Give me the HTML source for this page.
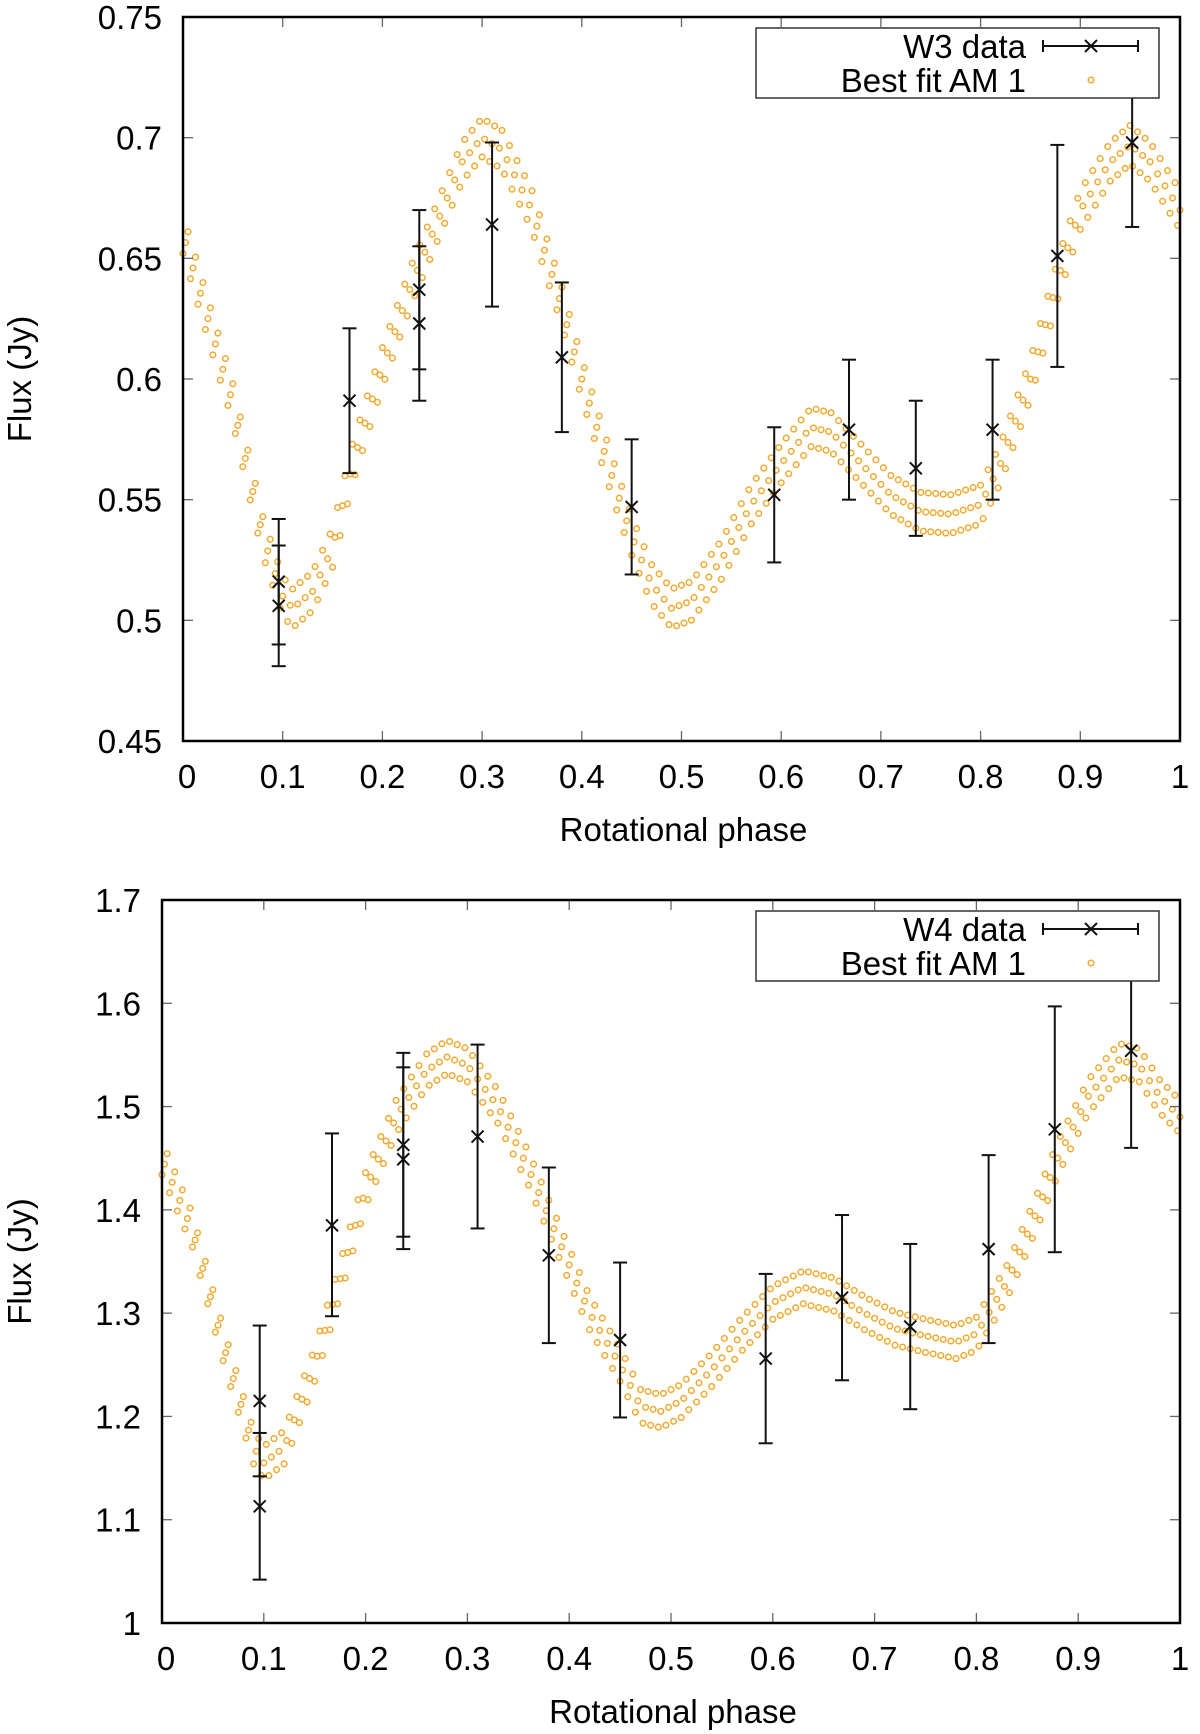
<!DOCTYPE html>
<html><head><meta charset="utf-8"><style>
html,body{margin:0;padding:0;background:#fff;}
svg{display:block;font-family:"Liberation Sans",Arial,sans-serif;}
</style></head><body>
<svg id="chart" width="1200" height="1734" viewBox="0 0 1200 1734" xmlns="http://www.w3.org/2000/svg"></svg>
<script>
// ---- data ----
const phases = [0.096,0.096,0.167,0.237,0.237,0.31,0.38,0.45,0.593,0.668,0.735,0.812,0.877,0.952];
const w3Flux = [0.516,0.506,0.591,0.637,0.623,0.664,0.609,0.547,0.552,0.579,0.563,0.579,0.651,0.698];
const w3Lo   = [0.490,0.481,0.561,0.604,0.591,0.630,0.578,0.519,0.524,0.550,0.535,0.550,0.605,0.663];
const w3Hi   = [0.542,0.531,0.621,0.670,0.655,0.698,0.640,0.575,0.580,0.608,0.591,0.608,0.697,0.733];
const w4Flux = [1.215,1.113,1.385,1.463,1.449,1.471,1.356,1.274,1.256,1.315,1.287,1.362,1.478,1.554];
const w4Lo   = [1.142,1.042,1.297,1.374,1.362,1.382,1.271,1.199,1.174,1.235,1.207,1.271,1.359,1.460];
const w4Hi   = [1.288,1.184,1.474,1.552,1.538,1.560,1.441,1.349,1.338,1.395,1.367,1.453,1.597,1.648];
const modelPhase = [0,0.05,0.08,0.1,0.11,0.13,0.15,0.17,0.2,0.23,0.26,0.28,0.3,0.32,0.35,0.38,0.4,0.43,0.45,0.47,0.49,0.51,0.54,0.57,0.6,0.63,0.65,0.68,0.71,0.74,0.77,0.8,0.82,0.85,0.88,0.9,0.93,0.95,0.97,1.0];
const w3Model = [0.66,0.59,0.535,0.51,0.505,0.512,0.53,0.565,0.605,0.64,0.67,0.69,0.70,0.695,0.67,0.63,0.60,0.56,0.535,0.515,0.505,0.508,0.525,0.548,0.565,0.58,0.578,0.565,0.552,0.545,0.544,0.548,0.565,0.60,0.645,0.67,0.69,0.697,0.69,0.67];
const w4ModelPhase = [0,0.03,0.06,0.09,0.1,0.12,0.15,0.18,0.2,0.23,0.26,0.28,0.3,0.33,0.36,0.39,0.42,0.45,0.47,0.49,0.51,0.54,0.57,0.6,0.63,0.66,0.69,0.72,0.75,0.78,0.8,0.83,0.86,0.88,0.91,0.94,0.96,0.98,1.0];
const w4Model = [1.45,1.38,1.27,1.17,1.155,1.17,1.25,1.35,1.42,1.49,1.535,1.548,1.54,1.50,1.44,1.37,1.30,1.25,1.21,1.205,1.215,1.245,1.28,1.31,1.325,1.318,1.30,1.285,1.278,1.272,1.28,1.33,1.40,1.45,1.51,1.545,1.54,1.51,1.49];
const w3Bands = [-0.008,0,0.008];
const w4Bands = [-0.016,0,0.016];
const w3Ticks = [0.45,0.5,0.55,0.6,0.65,0.7,0.75];
const w3TickLabels = ["0.45","0.5","0.55","0.6","0.65","0.7","0.75"];
const w4Ticks = [1,1.1,1.2,1.3,1.4,1.5,1.6,1.7];
const w4TickLabels = ["1","1.1","1.2","1.3","1.4","1.5","1.6","1.7"];
const xTicks = [0,0.1,0.2,0.3,0.4,0.5,0.6,0.7,0.8,0.9,1];
const xTickLabels = ["0","0.1","0.2","0.3","0.4","0.5","0.6","0.7","0.8","0.9","1"];

const NS="http://www.w3.org/2000/svg";
const svg=document.getElementById('chart');
const FS=33;
function mk(tag,attrs,parent){const e=document.createElementNS(NS,tag);for(const k in attrs)e.setAttribute(k,attrs[k]);(parent||svg).appendChild(e);return e;}
function interp(px,py,p){for(let i=0;i<px.length-1;i++){if(p>=px[i]&&p<=px[i+1]){const t=(p-px[i])/(px[i+1]-px[i]);return py[i]+t*(py[i+1]-py[i]);}}return py[py.length-1];}

function panel(cfg){
  const {L,R,T,B,ymin,ymax,yt,ytl,flux,lo,hi,mp,mv,bands,label,name}=cfg;
  const g=mk('g',{});
  
  
  const X=v=>L+(R-L)*v, Y=v=>B-(B-T)*(v-ymin)/(ymax-ymin);
  const mg=mk('g',{fill:'none',stroke:'#f0a92e','stroke-width':1.5},g);
  
  
  bands.forEach((b,bi)=>{
    for(let p=(bi*0.0025);p<=1.0001;p+=0.0075){
      const c=mk('circle',{cx:X(p).toFixed(1),cy:Y(interp(mp,mv,p)+b).toFixed(1),r:2.8},mg);
      
      
    }
  });
  const tg=mk('g',{stroke:'#666','stroke-width':1.3},g);
  xTicks.forEach((t,i)=>{
    mk('line',{x1:X(t),x2:X(t),y1:B,y2:B-10},tg);
    mk('line',{x1:X(t),x2:X(t),y1:T,y2:T+10},tg);
    const tx=mk('text',{x:X(t)+(i==0?4:0),y:B+47,'font-size':FS,'text-anchor':'middle',fill:'#000'},g);
    tx.textContent=xTickLabels[i];
    
    
  });
  yt.forEach((t,i)=>{
    mk('line',{x1:L,x2:L+10,y1:Y(t),y2:Y(t)},tg);
    mk('line',{x1:R,x2:R-10,y1:Y(t),y2:Y(t)},tg);
    const tx=mk('text',{x:L-21,y:Y(t)+12,'font-size':FS,'text-anchor':'end',fill:'#000'},g);
    tx.textContent=ytl[i];
    
    
  });
  const eg=mk('g',{stroke:'#111','stroke-width':2},g);
  
  
  phases.forEach((p,i)=>{
    const x=X(p);
    mk('line',{x1:x,x2:x,y1:Y(lo[i]),y2:Y(hi[i])},eg);
    mk('line',{x1:x-7,x2:x+7,y1:Y(lo[i]),y2:Y(lo[i])},eg);
    mk('line',{x1:x-7,x2:x+7,y1:Y(hi[i]),y2:Y(hi[i])},eg);
    const y=Y(flux[i]);
    const m=mk('path',{d:`M${x-6},${y-6}L${x+6},${y+6}M${x-6},${y+6}L${x+6},${y-6}`},eg);
    
    
  });
  const f=mk('rect',{x:L,y:T,width:R-L,height:B-T,fill:'none',stroke:'#000','stroke-width':2.5},g);
  
  
  const lg=mk('g',{},g);
  
  
  mk('rect',{x:756,y:T+11,width:403,height:70,fill:'#fff',stroke:'#333','stroke-width':1.5},lg);
  const t1=mk('text',{x:1026,y:T+41,'font-size':FS,'text-anchor':'end'},lg);t1.textContent=label;
  
  
  const t2=mk('text',{x:1026,y:T+75,'font-size':FS,'text-anchor':'end'},lg);t2.textContent='Best fit AM 1';
  
  
  const ly=T+29;
  mk('path',{d:`M1043,${ly}H1138M1043,${ly-6}V${ly+6}M1138,${ly-6}V${ly+6}M1085,${ly-6}L1097,${ly+6}M1085,${ly+6}L1097,${ly-6}`,stroke:'#111','stroke-width':2,fill:'none'},lg);
  mk('circle',{cx:1091,cy:T+63,r:2.8,fill:'none',stroke:'#f0a92e','stroke-width':1.5},lg);
  const xl=mk('text',{x:(L+R)/2+2,y:B+100,'font-size':FS,'text-anchor':'middle'},g);xl.textContent='Rotational phase';
  
  
  const cy=(T+B)/2;
  const yl=mk('text',{x:0,y:0,'font-size':FS,'text-anchor':'middle',transform:`translate(31,${cy}) rotate(-90)`},g);yl.textContent='Flux (Jy)';
  
  
}
panel({L:183,R:1180,T:17,B:741,ymin:0.45,ymax:0.75,yt:w3Ticks,ytl:w3TickLabels,flux:w3Flux,lo:w3Lo,hi:w3Hi,mp:modelPhase,mv:w3Model,bands:w3Bands,label:'W3 data',name:'w3-panel'});
panel({L:162,R:1180,T:900,B:1623,ymin:1,ymax:1.7,yt:w4Ticks,ytl:w4TickLabels,flux:w4Flux,lo:w4Lo,hi:w4Hi,mp:w4ModelPhase,mv:w4Model,bands:w4Bands,label:'W4 data',name:'w4-panel'});
</script>
</body></html>
